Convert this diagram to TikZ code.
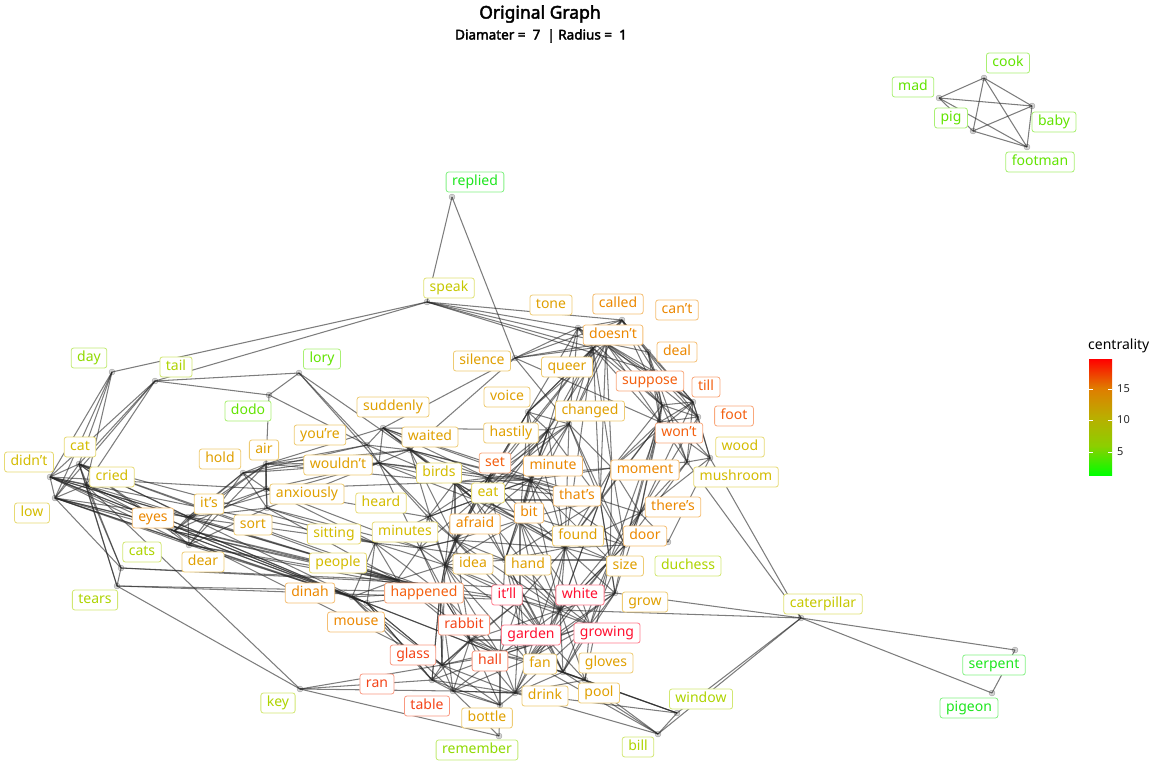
\documentclass[tikz,border=0pt]{standalone}
\usepackage{fontspec}
\setmainfont{Noto Sans}[AutoFakeBold=2.5]
\definecolor{gA}{HTML}{1EE61E}
\definecolor{gB}{HTML}{62E400}
\definecolor{gC}{HTML}{90DA00}
\definecolor{gD}{HTML}{AED400}
\definecolor{gE}{HTML}{C6C800}
\definecolor{gF}{HTML}{D4BC00}
\definecolor{gG}{HTML}{E0A000}
\definecolor{gH}{HTML}{EC8800}
\definecolor{gI}{HTML}{F46010}
\definecolor{gJ}{HTML}{F44418}
\definecolor{gK}{HTML}{FF1030}
\definecolor{s0}{HTML}{00FF00}
\definecolor{s1}{HTML}{8CCF00}
\definecolor{s2}{HTML}{BAAE00}
\definecolor{s3}{HTML}{E07C00}
\definecolor{s4}{HTML}{FF0000}
\pgfdeclareverticalshading{centshade}{100bp}{color(0bp)=(s0); color(25bp)=(s0); color(37.5bp)=(s1); color(50bp)=(s2); color(62.5bp)=(s3); color(75bp)=(s4); color(100bp)=(s4)}
\newcommand{\links}[2]{\foreach \b in {#2} \draw[edge] (#1.center) -- (\b.center);}
\begin{document}
\begin{tikzpicture}[x=1pt,y=-1pt,
  pt/.style={circle,inner sep=0pt,minimum size=6pt,fill=gray!70,draw=gray!60!black,line width=0.3pt,opacity=0.5},
  edge/.style={draw=black!85,opacity=0.6,line width=1.05pt},
  lbl/.style={draw=#1!55!white,text=#1,fill=white,rounded corners=2.5pt,line width=0.8pt,
    font=\fontsize{14}{16}\selectfont,inner xsep=6pt,inner ysep=3.25pt,text height=10.5pt,text depth=3pt}]
\useasboundingbox (0,0) rectangle (1152,768);
% ---------- node points ----------
\foreach \n/\x/\y in {replied/452/197, speak/427/302, tone/578/328, called/622/320, cant/648/352,
  doesnt/606/343, deal/655/372, silence/515/358, queer/593/348, suppose/662/405, till/693/402,
  foot/698/417, wont/660/422, wood/710/458, mushroom/687/462, moment/612/468, changed/569/424,
  voice/528/412, hastily/548/430, suddenly/383/428, youre/367/445, waited/410/450, wouldnt/379/463,
  hold/243/473, air/266/464, anxiously/266/489, sort/267/508, its/188/517, eyes/174/531, dear/189/545,
  heard/428/517, birds/455/482, sitting/375/543, people/397/580, minutes/420/548, dinah/352/597,
  mouse/367/603, happened/440/592, set/488/478, minute/530/480, eat/475/500, thats/600/500,
  bit/520/520, afraid/455/540, found/565/548, door/625/545, theres/640/513, idea/445/565,
  hand/505/560, size/610/560, duchess/668/542, grow/615/593, itll/520/600, white/560/610,
  garden/548/640, growing/590/625, rabbit/470/640, glass/442/665, hall/500/655, fan/527/660,
  gloves/563/672, ran/432/680, table/453/691, drink/515/693, pool/585/680, bottle/500/705,
  remember/499/736, key/300/689, window/677/713, bill/658/734, caterpillar/801/618,
  serpent/1015/650, pigeon/992/693, day/112/372, tail/155/381, lory/299/373, dodo/269/395,
  cat/79/464, didnt/50/477, cried/86/485, low/55/498, cats/121/568, tears/117/586,
  cook/984/78, mad/939/98, pig/973/131, baby/1032/106, footman/1027/147}
  \node[pt] (\n) at (\x,\y) {};
% ---------- connectors ----------
\links{cook}{mad,pig,baby,footman}
\links{mad}{pig,baby,footman}
\links{pig}{baby,footman}
\links{baby}{footman}
\links{replied}{speak,silence}
\links{speak}{day,tail,tone,called,doesnt,queer,deal}
\links{silence}{suddenly,waited,doesnt,called,queer,tone,changed,wont}
\links{tone}{called,doesnt,queer,suppose,changed,hastily,voice,till}
\links{called}{doesnt,queer,suppose,deal,cant,till,foot,changed,voice}
\links{cant}{doesnt,suppose,till,wont,deal}
\links{doesnt}{queer,deal,suppose,till,foot,wont,changed,voice,hastily,moment,thats}
\links{deal}{suppose,till,foot,wont,mushroom}
\links{queer}{changed,voice,hastily,suppose,set,minute,eat,wont,moment,thats,found}
\links{suppose}{till,foot,wont,wood,mushroom,moment,theres,door}
\links{till}{foot,wont,wood,mushroom,moment,door}
\links{foot}{wont,wood,mushroom,theres}
\links{wont}{wood,mushroom,moment,thats,theres,door,found,size}
\links{wood}{mushroom,caterpillar,theres,duchess}
\links{mushroom}{caterpillar,door,theres,moment}
\links{changed}{voice,hastily,set,minute,eat,thats,found,bit,moment,door}
\links{voice}{hastily,set,minute,eat,afraid,bit,found}
\links{hastily}{set,minute,eat,afraid,thats,bit,found,hand,idea}
\links{moment}{minute,thats,theres,door,found,size,white,set}
\links{minute}{set,eat,thats,bit,afraid,found,hand,door,size,white}
\links{set}{eat,thats,bit,afraid,birds,idea,found,hand}
\links{eat}{thats,bit,afraid,found,idea,hand,birds,door,white}
\links{thats}{bit,found,door,theres,hand,size,white,grow}
\links{theres}{door,size,found,grow,duchess,white}
\links{door}{size,found,grow,duchess,white,growing}
\links{bit}{afraid,found,hand,idea,itll,white,size,garden,growing}
\links{afraid}{idea,hand,found,itll,happened,minutes,garden,white,rabbit}
\links{found}{hand,size,white,garden,growing,itll,grow,fan}
\links{idea}{hand,itll,happened,rabbit,garden,white,fan,glass,hall}
\links{hand}{itll,white,garden,growing,size,fan,hall,gloves}
\links{size}{white,grow,growing,garden,gloves,fan,pool}
\links{grow}{white,growing,caterpillar,fan,gloves,garden}
\links{itll}{white,garden,growing,rabbit,hall,fan,glass,drink,gloves}
\links{white}{garden,growing,hall,fan,gloves,caterpillar,drink,pool,rabbit}
\links{garden}{growing,hall,fan,gloves,rabbit,glass,drink,pool}
\links{growing}{fan,gloves,pool,hall,drink}
\links{rabbit}{glass,hall,ran,table,happened,fan,drink,bottle}
\links{glass}{hall,ran,table,drink,happened,mouse,bottle}
\links{hall}{fan,ran,table,drink,gloves,bottle}
\links{fan}{gloves,drink,pool,window,bill,table}
\links{gloves}{pool,drink,window,bill}
\links{drink}{pool,bottle,window,bill,table}
\links{pool}{window,bill}
\links{ran}{table,key,happened,mouse,dinah,drink}
\links{table}{key,remember,bottle,drink}
\links{bottle}{remember,ran}
\links{key}{remember,glass,cried,tears}
\links{window}{caterpillar,bill}
\links{bill}{caterpillar}
\links{caterpillar}{serpent,pigeon}
\links{serpent}{pigeon}
\links{happened}{mouse,dinah,idea,itll,rabbit,glass,hall,minutes,people,ran,table}
\links{mouse}{dinah,glass,hall,ran}
\links{dinah}{glass,table,hall,people}
\links{minutes}{heard,sitting,people,afraid,idea,eat,hand,rabbit}
\links{heard}{sitting,birds,eat,afraid,set,idea,minute}
\links{sitting}{people,idea,happened,mouse,dinah}
\links{people}{idea,itll,hall,rabbit}
\links{birds}{eat,minute,thats,afraid,bit,idea,hand,found}
\links{day}{cat,didnt,cried,low}
\links{tail}{lory,dodo,cat,didnt,cried,low}
\links{lory}{dodo,youre,wouldnt,waited}
\links{dodo}{youre,air}
\links{cat}{didnt,cried,low,eyes,dear,its,cats,tears,people,mouse,sitting,happened}
\links{didnt}{cried,low,eyes,dear,happened,sitting,dinah,people,anxiously,mouse}
\links{cried}{low,cats,tears,eyes,dinah,mouse,people}
\links{low}{eyes,dear,its,people,mouse,cats,happened,dinah}
\links{cats}{tears,people,grow}
\links{tears}{itll,happened}
\links{its}{eyes,dear,hold,air,anxiously,sort,wouldnt,sitting}
\links{eyes}{dear,hold,air,anxiously,people,dinah,mouse,glass,happened}
\links{dear}{sort,air,hold,people,dinah,happened}
\links{hold}{air,anxiously,sort,wouldnt,youre,waited}
\links{air}{anxiously,sort,wouldnt,youre,suddenly,waited,birds}
\links{anxiously}{sort,wouldnt,sitting,heard,minutes,birds}
\links{sort}{sitting,people,wouldnt,minutes}
\links{youre}{wouldnt,suddenly,waited,birds}
\links{wouldnt}{suddenly,waited,birds,heard,set,minute,minutes,eat,afraid}
\links{suddenly}{waited,birds,set,eat,minute,hastily,thats}
\links{waited}{birds,set,eat,afraid,thats,minute,idea}
% ---------- labels ----------
\foreach \n/\x/\y/\t/\c in {replied/475/182/replied/gA, speak/449/288/speak/gE, tone/551/305/tone/gG,
  called/618/304/called/gH, cant/677/310/can’t/gH, doesnt/613/335/doesn’t/gH, deal/677/352/deal/gH,
  silence/482/361/silence/gG, queer/567/367/queer/gG, suppose/650/381/suppose/gI, till/706/387/till/gI,
  voice/507/397/voice/gG, changed/590/411/changed/gG, foot/734/416/foot/gI, suddenly/393/407/suddenly/gG,
  waited/430/437/waited/gG, hastily/511/433/hastily/gG, wont/679/433/won’t/gI, wood/740/447/wood/gF,
  youre/320/435/you’re/gG, wouldnt/338/465/wouldn’t/gG, set/495/463/set/gI, minute/553/466/minute/gH,
  moment/645/470/moment/gH, mushroom/736/477/mushroom/gF, hold/220/459/hold/gG, air/264/450/air/gG,
  birds/439/473/birds/gF, eat/488/493/eat/gF, thats/577/496/that’s/gH, theres/673/507/there’s/gH,
  anxiously/307/494/anxiously/gG, heard/381/503/heard/gF, its/209/504/it’s/gG, bit/529/513/bit/gH,
  afraid/475/524/afraid/gH, found/578/536/found/gG, door/645/536/door/gH, eyes/153/518/eyes/gH,
  sort/253/525/sort/gG, sitting/334/534/sitting/gF, minutes/405/532/minutes/gF, dear/203/562/dear/gG,
  people/338/563/people/gF, idea/473/564/idea/gG, hand/528/565/hand/gG, size/625/566/size/gG,
  duchess/688/566/duchess/gD, cats/142/552/cats/gD, tears/95/600/tears/gD, dinah/310/593/dinah/gH,
  happened/424/593/happened/gI, itll/507/595/it’ll/gK, white/580/595/white/gK, grow/645/602/grow/gG,
  caterpillar/823/604/caterpillar/gE, mouse/356/622/mouse/gH, rabbit/464/625/rabbit/gJ,
  garden/531/635/garden/gK, growing/607/633/growing/gK, glass/413/655/glass/gJ, hall/490/661/hall/gJ,
  fan/540/664/fan/gG, gloves/606/663/gloves/gG, serpent/994/665/serpent/gA, ran/377/684/ran/gJ,
  drink/545/696/drink/gG, pool/599/693/pool/gG, window/701/699/window/gD, key/278/703/key/gD,
  table/427/706/table/gJ, bottle/487/718/bottle/gG, pigeon/969/708/pigeon/gA, bill/638/747/bill/gD,
  remember/477/750/remember/gC, day/89/358/day/gC, tail/176/367/tail/gD, lory/322/359/lory/gB,
  dodo/248/411/dodo/gB, cat/80/447/cat/gF, didnt/29/462/didn’t/gF, cried/112/477/cried/gF,
  low/32/513/low/gF, cook/1008/63/cook/gB, mad/913/87/mad/gB, pig/951/118/pig/gB,
  baby/1054/122/baby/gB, footman/1040/162/footman/gB}
  \node[lbl=\c] (\n-l) at (\x,\y) {\t};
% ---------- title ----------
\node[font=\bfseries\fontsize{17.5}{20}\selectfont] (title) at (540,14) {Original Graph};
\node[font=\bfseries\fontsize{13.5}{16}\selectfont] (subtitle) at (541,36) {Diamater =~~7~~| Radius =~~1};
% ---------- legend ----------
\node[anchor=west,inner sep=0pt,font=\fontsize{14}{16}\selectfont] (legtitle) at (1088,346) {centrality};
\shade[shading=centshade] (1089,359) rectangle (1112,475);
\foreach \v/\yy in {15/389,10/420,5/452}{
  \draw[white,line width=0.6pt] (1089,\yy) -- (1093,\yy);
  \draw[white,line width=0.6pt] (1108,\yy) -- (1112,\yy);
  \node[anchor=west,inner sep=0pt,font=\fontsize{11}{13}\selectfont,text=black!85] (tick\v) at (1117,\yy) {\v};
}
\end{tikzpicture}
\end{document}
